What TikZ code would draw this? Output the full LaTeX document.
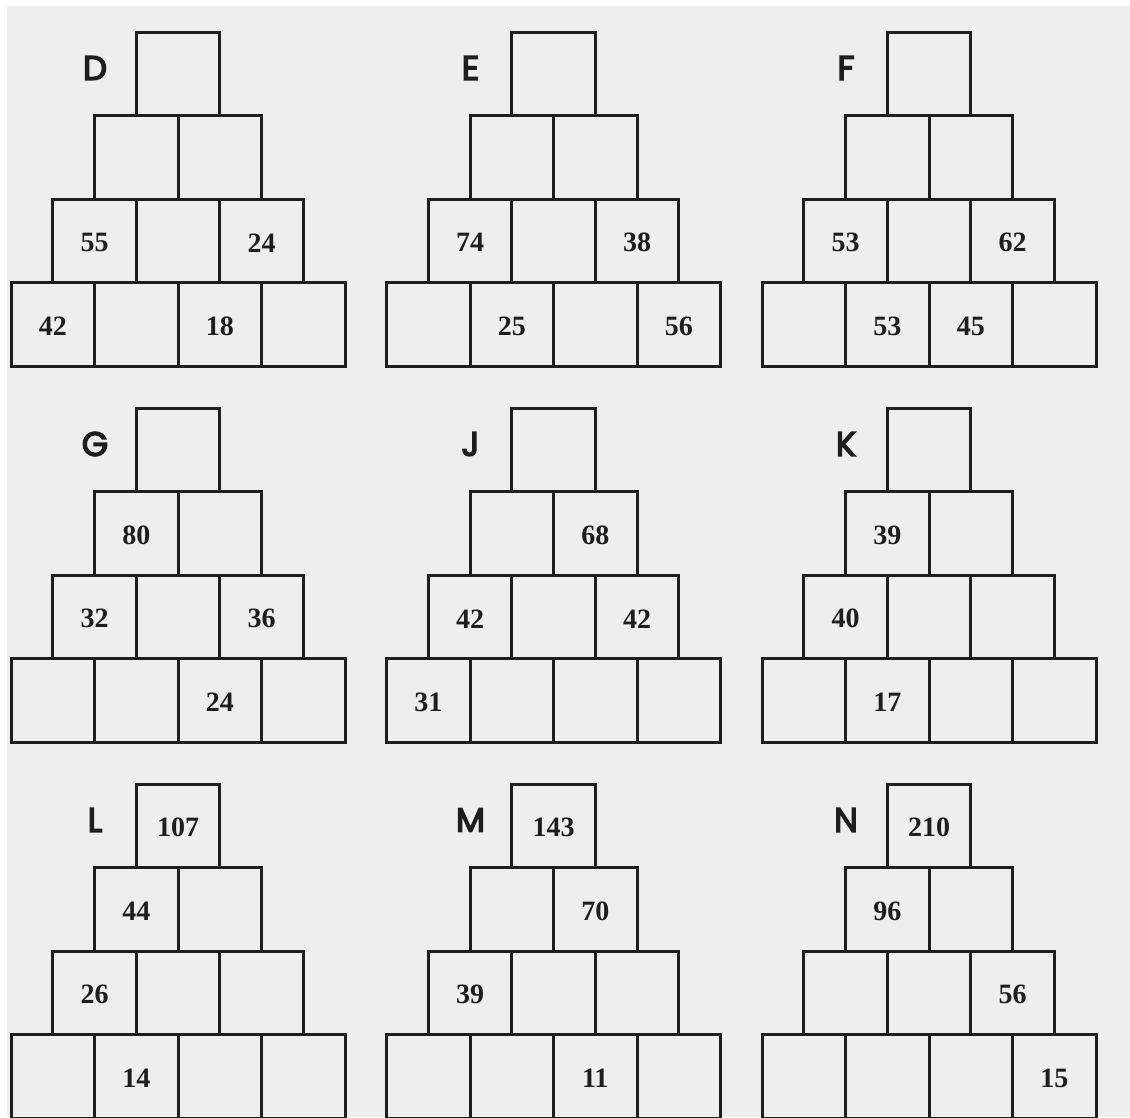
\documentclass[tikz,border=0pt]{standalone}
\usepackage{fontspec}
\setmainfont{Liberation Serif}
\newfontfamily\letterfont{Poppins}[FakeBold=4]
\definecolor{bggray}{HTML}{EEEEEE}
\definecolor{ink}{HTML}{1E1E1E}
\tikzset{
  cell/.style={draw=ink, line width=3pt, minimum size=83.5pt, inner sep=0pt, outer sep=0pt, anchor=north west},
  num/.style={font=\fontsize{28}{30}\selectfont\bfseries, text=ink, inner sep=0pt},
  lbl/.style={font=\letterfont\fontsize{34}{36}\selectfont, text=ink, inner sep=0pt}
}
\begin{document}
\begin{tikzpicture}[x=1pt,y=-1pt]
\useasboundingbox (0,0) rectangle (1130,1117);
\fill[white] (0,0) rectangle (1130,1117);
\fill[bggray] (7,6) rectangle (1130,1117);
\foreach \P/\i/\j in {D/0/0,E/1/0,F/2/0,G/0/1,J/1/1,K/2/1,L/0/2,M/1/2,N/2/2}{
  \pgfmathsetmacro\xo{11+375.5*\i}
  \pgfmathsetmacro\yo{32+376*\j}
  \node[lbl] (\P-lbl) at ({\xo+84},{\yo+36}) {\P};
  \foreach \r in {0,...,3}{
    \foreach \c in {0,...,\r}{
      \node[cell] (\P-\r-\c) at ({\xo+(3-\r)*41.75+\c*83.5},{\yo+\r*83.5}) {};
    }
  }
}
% numbers: pyramid-row-cell
\foreach \P/\r/\c/\v in {
  D/2/0/55, D/2/2/24, D/3/0/42, D/3/2/18,
  E/2/0/74, E/2/2/38, E/3/1/25, E/3/3/56,
  F/2/0/53, F/2/2/62, F/3/1/53, F/3/2/45,
  G/1/0/80, G/2/0/32, G/2/2/36, G/3/2/24,
  J/1/1/68, J/2/0/42, J/2/2/42, J/3/0/31,
  K/1/0/39, K/2/0/40, K/3/1/17,
  L/0/0/107, L/1/0/44, L/2/0/26, L/3/1/14,
  M/0/0/143, M/1/1/70, M/2/0/39, M/3/2/11,
  N/0/0/210, N/1/0/96, N/2/2/56, N/3/3/15}{
  \node[num] (\P-\r-\c-n) at ([yshift=-2pt]\P-\r-\c.center) {\v};
}
\end{tikzpicture}
\end{document}
